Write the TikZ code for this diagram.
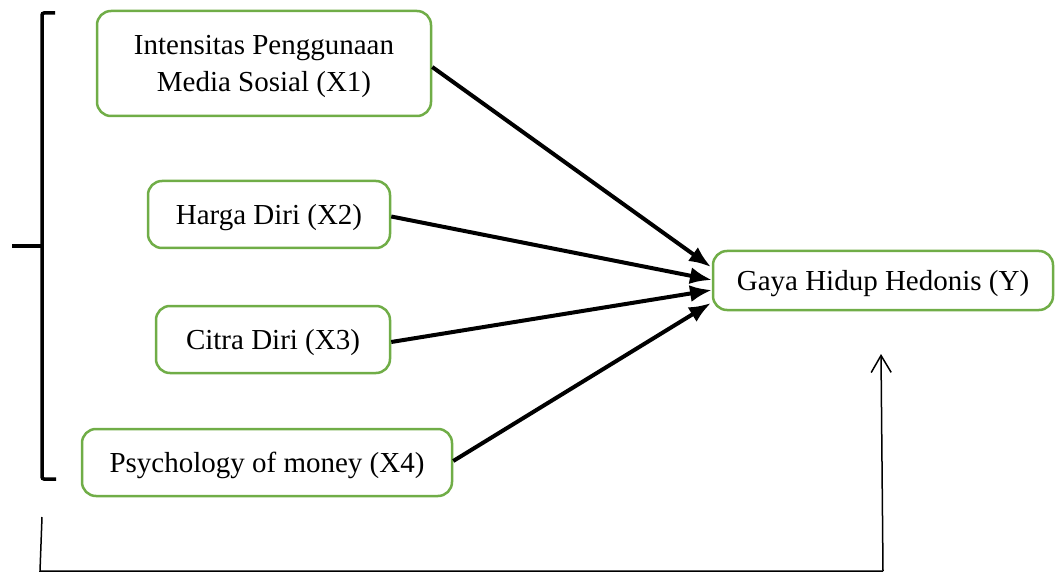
\documentclass[tikz,border=0pt]{standalone}
\usepackage{fontspec}
\setmainfont{Liberation Serif}
\usetikzlibrary{arrows.meta,calc}
\definecolor{boxgreen}{HTML}{70AD47}
\begin{document}
\begin{tikzpicture}[x=1pt,y=-1pt,
  varbox/.style={draw=boxgreen,line width=2.5pt,rounded corners=14pt,inner sep=0pt,align=center,
    text depth=0pt,font=\fontsize{29}{37}\selectfont},
  path/.style={line width=4pt,-{Latex[length=22pt,width=17pt]}},
  brace/.style={line width=3.5pt,rounded corners=2pt},
  thinline/.style={line width=1.5pt}]
\useasboundingbox (0,0) rectangle (1055,572);
\node[varbox,minimum width=334pt,minimum height=105pt] (X1) at (264,63.5) {Intensitas Penggunaan\\Media Sosial (X1)};
\node[varbox,minimum width=242pt,minimum height=67pt] (X2) at (269,214.5) {Harga Diri (X2)};
\node[varbox,minimum width=234pt,minimum height=67pt] (X3) at (273,339.5) {Citra Diri (X3)};
\node[varbox,minimum width=370pt,minimum height=67pt] (X4) at (267,462.5) {Psychology of money (X4)};
\node[varbox,minimum width=340pt,minimum height=59pt] (Y) at (883,280.5) {Gaya Hidup Hedonis (Y)};
\coordinate (y1) at (711,267);
\coordinate (y2) at (712,280);
\coordinate (y3) at (712,290);
\coordinate (y4) at (711,303);
\draw[path] ($(X1.east)+(0,3.5)$) -- (y1);
\draw[path] ($(X2.east)+(0,2)$) -- (y2);
\draw[path] ($(X3.east)+(0,2.5)$) -- (y3);
\draw[path] ($(X4.east)+(0,-1.5)$) -- (y4);
% bracket
\coordinate (bt) at (55,13);
\coordinate (bb) at (56,479);
\coordinate (bm) at (42,246);
\coordinate (bl) at (12,246);
\draw[brace] (bt) -- (42,13) -- (42,479) -- (bb);
\draw[line width=3.5pt] (bl) -- (bm);
% bottom connector
\coordinate (c0) at (42,517);
\coordinate (c1) at (40,571);
\coordinate (c2) at (883,571);
\coordinate (c3) at (881,354);
\draw[thinline] (c0) -- (c1) -- (c2);
\draw[thinline,-{Straight Barb[length=17pt,width=20pt]}] (c2) -- (c3);
\end{tikzpicture}
\end{document}
